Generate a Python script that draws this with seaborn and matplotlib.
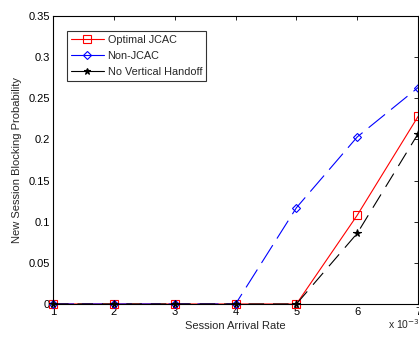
import matplotlib
matplotlib.use("Agg")
import matplotlib.pyplot as plt
from matplotlib.lines import Line2D
import seaborn as sns
import pandas as pd

rates = [1, 2, 3, 4, 5, 6, 7]
optimal_jcac = [0, 0, 0, 0, 0, 0.108, 0.228]
non_jcac = [0, 0, 0, 0, 0.117, 0.203, 0.263]
no_vho = [0, 0, 0, 0, 0, 0.086, 0.207]
series_names = ["Optimal JCAC", "Non-JCAC", "No Vertical Handoff"]
yticks = [0, 0.05, 0.1, 0.15, 0.2, 0.25, 0.3, 0.35]
ytick_labels = ["0", "0.05", "0.1", "0.15", "0.2", "0.25", "0.3", "0.35"]

sns.set_style("white")
plt.rcParams["font.family"] = ["Liberation Sans", "DejaVu Sans"]

df = pd.DataFrame({
    "rate": rates * 3,
    "prob": optimal_jcac + non_jcac + no_vho,
    "series": [series_names[0]] * 7 + [series_names[1]] * 7 + [series_names[2]] * 7,
})

fig = plt.figure(figsize=(4.19, 3.38), dpi=100)
ax = fig.add_axes([0.1265, 0.1006, 0.8715, 0.8524])

colors = {series_names[0]: "#ff0000", series_names[1]: "#0000ff", series_names[2]: "#000000"}
markers = {series_names[0]: "s", series_names[1]: "D", series_names[2]: "*"}
dashes = {series_names[0]: "", series_names[1]: (19, 7), series_names[2]: (14, 8)}
msizes = {series_names[0]: 6, series_names[1]: 4.5, series_names[2]: 5.5}
mfcs = {series_names[0]: "none", series_names[1]: "none", series_names[2]: "#000000"}

sns.lineplot(data=df, x="rate", y="prob", hue="series", style="series",
             hue_order=series_names, style_order=series_names,
             palette=colors, markers=markers, dashes=dashes, linewidth=0.8,
             legend=False, ax=ax, clip_on=False)

handles = []
for line, name in zip(ax.lines, series_names):
    line.set_markerfacecolor(mfcs[name])
    line.set_markeredgecolor(colors[name])
    line.set_markersize(msizes[name])
    line.set_markeredgewidth(0.8)
    handles.append(Line2D([], [], color=colors[name], marker=markers[name], mfc=mfcs[name],
                          mec=colors[name], ms=msizes[name] - 0.5, mew=0.8, lw=0.8, ls="-"))

ax.set_xlim(1, 7)
ax.set_ylim(0, 0.35)
ax.set_xticks(rates)
ax.set_yticks(yticks)
ax.set_yticklabels(ytick_labels)
ax.tick_params(direction="in", top=True, right=True, labelsize=8, length=3, width=0.6, pad=2, colors="black")
for s in ax.spines.values():
    s.set_visible(True)
    s.set_color("black")
    s.set_linewidth(0.8)
ax.set_xlabel("Session Arrival Rate", fontsize=8, labelpad=3)
ax.set_ylabel("New Session Blocking Probability", fontsize=8, labelpad=5)

leg = ax.legend(handles, series_names, loc="upper left", bbox_to_anchor=(0.038, 0.948), borderaxespad=0,
                fontsize=7.8, frameon=True, fancybox=False, edgecolor="black", borderpad=0.4,
                handlelength=3.0, labelspacing=0.55, handletextpad=0.35)
leg.get_frame().set_linewidth(0.8)

fig.text(0.925, 0.022, r"x 10$^{-3}$", fontsize=7.5, ha="left", va="bottom")

fig.savefig("out.png", dpi=100)
